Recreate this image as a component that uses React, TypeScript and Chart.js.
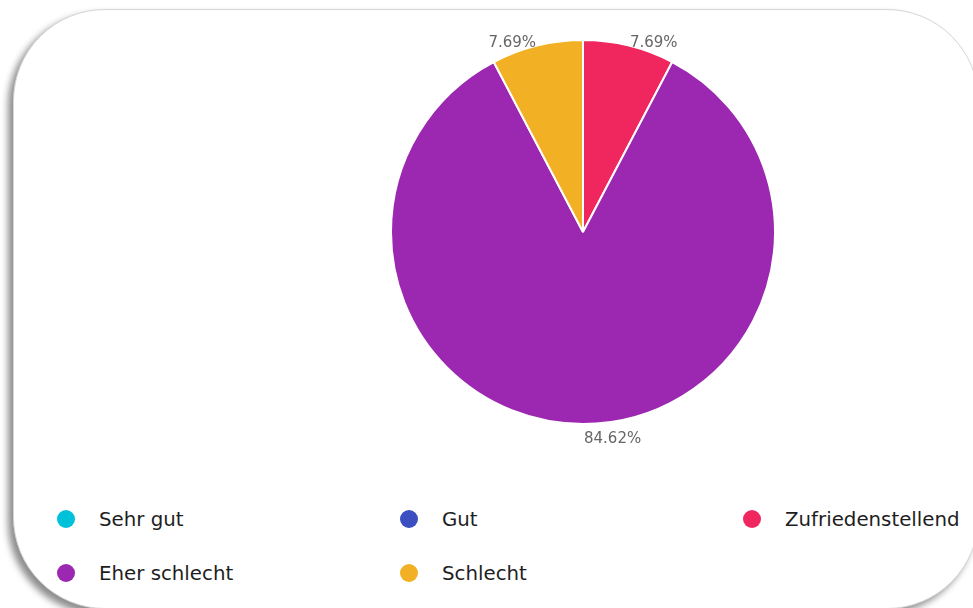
import React, { useEffect, useRef } from "react";
import { Chart, registerables } from "chart.js";

Chart.register(...registerables);

const categories = ["Sehr gut", "Gut", "Zufriedenstellend", "Eher schlecht", "Schlecht"];
const counts = [0, 0, 1, 11, 1];
const colors = ["#00C1DA", "#3B4FC0", "#F0275F", "#9C27B0", "#F2B124"];

const outerLabels = {
  id: "outerLabels",
  afterDatasetsDraw(chart: any) {
    const ctx = chart.ctx;
    const meta = chart.getDatasetMeta(0);
    const data = chart.data.datasets[0].data as number[];
    const total = data.reduce((a, b) => a + b, 0);
    ctx.save();
    ctx.font = "15px 'DejaVu Sans'";
    ctx.fillStyle = "#666666";
    ctx.textBaseline = "alphabetic";
    meta.data.forEach((arc: any, i: number) => {
      const v = data[i];
      if (!v) return;
      const mid = (arc.startAngle + arc.endAngle) / 2;
      const r = arc.outerRadius;
      const px = arc.x + Math.cos(mid) * r;
      const py = arc.y + Math.sin(mid) * r;
      const txt = ((v / total) * 100).toFixed(2) + "%";
      const right = Math.cos(mid) >= -1e-6;
      ctx.textAlign = right ? "left" : "right";
      const below = Math.sin(mid) > 0;
      const x = px + (right ? 1 : -1);
      const y = below ? py + 19 : py + 1.5;
      ctx.fillText(txt, x, y);
    });
    ctx.restore();
  },
};

function PieChart() {
  const ref = useRef<HTMLCanvasElement>(null);
  useEffect(() => {
    if (!ref.current) return;
    const chart = new Chart(ref.current, {
      type: "pie",
      data: {
        labels: categories,
        datasets: [
          {
            data: counts,
            backgroundColor: colors,
            borderColor: "#ffffff",
            borderWidth: 2,
          },
        ],
      },
      options: {
        animation: false,
        responsive: false,
        layout: { padding: 27 },
        plugins: {
          legend: { display: false },
          tooltip: { enabled: false },
        },
      },
      plugins: [outerLabels],
    });
    return () => chart.destroy();
  }, []);
  return (
    <canvas
      ref={ref}
      width={500}
      height={440}
      style={{ position: "absolute", left: 332 - 13, top: 11 - 9, width: 500, height: 440 }}
    />
  );
}

export default function App() {
  const colLeft = [53, 396, 739];
  const rowTop = [509, 563];
  return (
    <div style={{ position: "fixed", left: 0, top: 0, width: 973, height: 608, overflow: "hidden", background: "#ffffff" }}>
      <div
        style={{
          position: "absolute",
          left: 13,
          top: 9,
          width: 966,
          height: 600,
          borderRadius: 92,
          background: "#ffffff",
          border: "1px solid #d6d6d6",
          boxSizing: "border-box",
          boxShadow: "-5px 5px 7px rgba(0,0,0,0.45)",
        }}
      >
        <PieChart />
      </div>
      {categories.map((c, i) => (
        <div
          key={c}
          style={{
            position: "absolute",
            left: colLeft[i % 3],
            top: rowTop[Math.floor(i / 3)],
            height: 20,
            display: "flex",
            alignItems: "center",
            fontFamily: "'DejaVu Sans', sans-serif",
            fontSize: 19.8,
            color: "#1e1e1e",
            whiteSpace: "nowrap",
          }}
        >
          <span
            style={{
              display: "inline-block",
              width: 18,
              height: 18,
              borderRadius: 9,
              background: colors[i],
              marginLeft: 4,
              marginRight: 24,
            }}
          />
          <span>{c}</span>
        </div>
      ))}
    </div>
  );
}
